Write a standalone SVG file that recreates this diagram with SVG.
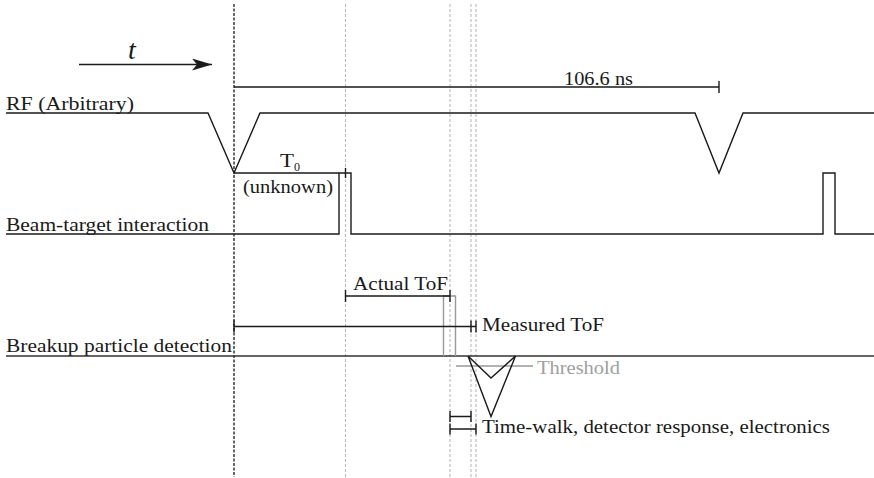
<svg xmlns="http://www.w3.org/2000/svg" width="874" height="478" viewBox="0 0 874 478">
<style>
text{font-family:'Liberation Serif','DejaVu Serif',serif;font-size:19px;fill:#1a1a1a}
.ln{fill:none;stroke:#1a1a1a;stroke-width:1.4}
.gr{fill:none;stroke:#999;stroke-width:1.4}
.dk{stroke:#1a1a1a;stroke-width:1.3;stroke-dasharray:3 1.5}
.dg{stroke:#bbb;stroke-width:1.1;stroke-dasharray:3 2}
</style>
<defs>
<marker id="stealth" viewBox="0 0 20 12" refX="20" refY="6" markerWidth="20" markerHeight="12" markerUnits="userSpaceOnUse" orient="auto">
<path d="M0,0 L20,6 L0,12 L5,6 Z" fill="#1a1a1a"/>
</marker>
</defs>
<g id="guides">
<line class="dk" x1="234" y1="4" x2="234" y2="477"/>
<line class="dg" x1="345.5" y1="4" x2="345.5" y2="477"/>
<line class="dg" x1="450" y1="4" x2="450" y2="477"/>
<line class="dg" x1="471" y1="4" x2="471" y2="477"/>
<line class="dg" x1="476" y1="4" x2="476" y2="477"/>
</g>
<g id="time-arrow">
<line class="ln" x1="79" y1="64.5" x2="212" y2="64.5" marker-end="url(#stealth)"/>
<text x="128" y="59" style="font-size:28px;font-style:italic">t</text>
</g>
<g id="period">
<path class="ln" d="M234,87 H719 M719,81 V93"/>
<text x="564" y="85" textLength="69" lengthAdjust="spacingAndGlyphs">106.6 ns</text>
</g>
<g id="rf">
<text x="6" y="110" textLength="128" lengthAdjust="spacingAndGlyphs">RF (Arbitrary)</text>
<path class="ln" d="M6,113 H208 L234,173 L260,113 H695 L719,173 L743,113 H874"/>
</g>
<g id="beam">
<text x="6" y="231" textLength="203" lengthAdjust="spacingAndGlyphs">Beam-target interaction</text>
<path class="ln" d="M6,234 H339 V173 H351 V234 H823 V173 H835 V234 H874"/>
<path class="ln" d="M234,173 H339 M345.5,168 V178"/>
<text x="280" y="167" textLength="14" lengthAdjust="spacingAndGlyphs">T</text>
<text x="294" y="171" style="font-size:12px">0</text>
<text x="243" y="193" textLength="90" lengthAdjust="spacingAndGlyphs">(unknown)</text>
</g>
<g id="detection">
<text x="6" y="352" textLength="226" lengthAdjust="spacingAndGlyphs">Breakup particle detection</text>
<path d="M6,356 H874" fill="none" stroke="#333" stroke-width="1.4"/>
<path class="gr" d="M443.5,356 V296 H455.5 V356"/>
<path class="gr" d="M456,366 H533"/>
<text x="537" y="374" textLength="83" lengthAdjust="spacingAndGlyphs" style="fill:#a0a0a0">Threshold</text>
<path class="ln" d="M468,356 L491,378 L515.5,356 M468,356 L491,416.5 L515.5,356"/>
</g>
<g id="actual-tof">
<path class="ln" d="M345.5,296 H450 M345.5,290 V302 M450,290 V302"/>
<text x="353" y="290" textLength="95" lengthAdjust="spacingAndGlyphs">Actual ToF</text>
</g>
<g id="measured-tof">
<path class="ln" d="M234,326.5 H476 M234,320.5 V332.5 M471,320.5 V332.5 M476,320.5 V332.5"/>
<text x="482" y="331" textLength="122" lengthAdjust="spacingAndGlyphs">Measured ToF</text>
</g>
<g id="time-walk">
<path class="ln" d="M450,416.5 H471 M450,411 V422 M471,411 V422 M450,429 H476 M450,423.5 V434.5 M476,423.5 V434.5"/>
<text x="482" y="433" textLength="348" lengthAdjust="spacingAndGlyphs">Time-walk, detector response, electronics</text>
</g>
</svg>
